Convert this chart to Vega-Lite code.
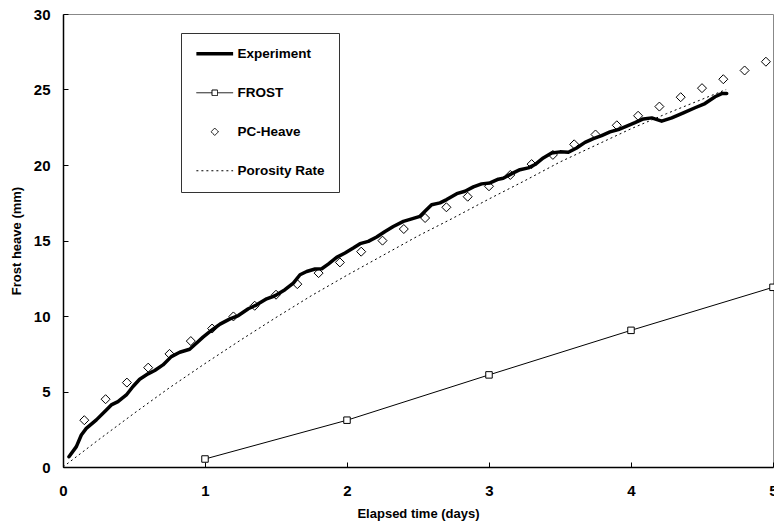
{
  "$schema": "https://vega.github.io/schema/vega-lite/v6.json",
  "width": 710,
  "height": 453,
  "autosize": {"type": "none"},
  "padding": {"left": 63, "top": 14, "right": 1, "bottom": 60},
  "background": "white",
  "config": {
    "view": {"stroke": "#888888", "strokeWidth": 1},
    "font": "Liberation Sans",
    "axis": {
      "domainColor": "black",
      "domainWidth": 1.5,
      "tickColor": "black",
      "tickWidth": 1,
      "tickSize": -5,
      "grid": false,
      "labelFlush": false,
      "labelFont": "Liberation Sans",
      "labelFontWeight": "bold",
      "labelFontSize": 15,
      "labelColor": "black",
      "titleFont": "Liberation Sans",
      "titleFontWeight": "bold",
      "titleFontSize": 13,
      "titleColor": "black"
    },
    "legend": {
      "labelFont": "Liberation Sans",
      "labelFontWeight": "bold",
      "labelFontSize": 13.5,
      "labelColor": "black"
    }
  },
  "datasets": {
    "exp": [
      {"s":"Experiment","t":0.042,"h":0.68},{"s":"Experiment","t":0.094,"h":1.35},{"s":"Experiment","t":0.129,"h":2.12},{"s":"Experiment","t":0.164,"h":2.56},{"s":"Experiment","t":0.235,"h":3.12},{"s":"Experiment","t":0.305,"h":3.78},{"s":"Experiment","t":0.34,"h":4.11},{"s":"Experiment","t":0.387,"h":4.33},{"s":"Experiment","t":0.446,"h":4.77},{"s":"Experiment","t":0.493,"h":5.33},{"s":"Experiment","t":0.54,"h":5.81},{"s":"Experiment","t":0.599,"h":6.17},{"s":"Experiment","t":0.646,"h":6.39},{"s":"Experiment","t":0.704,"h":6.76},{"s":"Experiment","t":0.763,"h":7.31},{"s":"Experiment","t":0.822,"h":7.6},{"s":"Experiment","t":0.892,"h":7.8},{"s":"Experiment","t":0.939,"h":8.2},{"s":"Experiment","t":0.986,"h":8.6},{"s":"Experiment","t":1.045,"h":9.04},{"s":"Experiment","t":1.106,"h":9.46},{"s":"Experiment","t":1.176,"h":9.81},{"s":"Experiment","t":1.235,"h":10.03},{"s":"Experiment","t":1.305,"h":10.48},{"s":"Experiment","t":1.364,"h":10.74},{"s":"Experiment","t":1.434,"h":11.14},{"s":"Experiment","t":1.493,"h":11.34},{"s":"Experiment","t":1.563,"h":11.74},{"s":"Experiment","t":1.622,"h":12.18},{"s":"Experiment","t":1.669,"h":12.73},{"s":"Experiment","t":1.716,"h":12.95},{"s":"Experiment","t":1.775,"h":13.11},{"s":"Experiment","t":1.822,"h":13.13},{"s":"Experiment","t":1.868,"h":13.44},{"s":"Experiment","t":1.927,"h":13.88},{"s":"Experiment","t":1.986,"h":14.17},{"s":"Experiment","t":2.044,"h":14.5},{"s":"Experiment","t":2.092,"h":14.79},{"s":"Experiment","t":2.15,"h":14.94},{"s":"Experiment","t":2.209,"h":15.23},{"s":"Experiment","t":2.268,"h":15.6},{"s":"Experiment","t":2.326,"h":15.93},{"s":"Experiment","t":2.397,"h":16.27},{"s":"Experiment","t":2.456,"h":16.43},{"s":"Experiment","t":2.514,"h":16.6},{"s":"Experiment","t":2.549,"h":16.93},{"s":"Experiment","t":2.596,"h":17.37},{"s":"Experiment","t":2.655,"h":17.49},{"s":"Experiment","t":2.702,"h":17.71},{"s":"Experiment","t":2.773,"h":18.1},{"s":"Experiment","t":2.831,"h":18.26},{"s":"Experiment","t":2.89,"h":18.55},{"s":"Experiment","t":2.948,"h":18.75},{"s":"Experiment","t":3.007,"h":18.81},{"s":"Experiment","t":3.066,"h":19.06},{"s":"Experiment","t":3.1,"h":19.12},{"s":"Experiment","t":3.16,"h":19.43},{"s":"Experiment","t":3.218,"h":19.69},{"s":"Experiment","t":3.277,"h":19.81},{"s":"Experiment","t":3.324,"h":20.03},{"s":"Experiment","t":3.382,"h":20.47},{"s":"Experiment","t":3.441,"h":20.8},{"s":"Experiment","t":3.5,"h":20.87},{"s":"Experiment","t":3.559,"h":20.84},{"s":"Experiment","t":3.617,"h":21.13},{"s":"Experiment","t":3.676,"h":21.5},{"s":"Experiment","t":3.735,"h":21.75},{"s":"Experiment","t":3.793,"h":21.95},{"s":"Experiment","t":3.852,"h":22.19},{"s":"Experiment","t":3.911,"h":22.35},{"s":"Experiment","t":3.97,"h":22.57},{"s":"Experiment","t":4.028,"h":22.8},{"s":"Experiment","t":4.087,"h":23.05},{"s":"Experiment","t":4.146,"h":23.12},{"s":"Experiment","t":4.216,"h":22.9},{"s":"Experiment","t":4.287,"h":23.12},{"s":"Experiment","t":4.369,"h":23.45},{"s":"Experiment","t":4.451,"h":23.79},{"s":"Experiment","t":4.521,"h":24.07},{"s":"Experiment","t":4.592,"h":24.52},{"s":"Experiment","t":4.639,"h":24.73},{"s":"Experiment","t":4.674,"h":24.73}
    ],
    "frost": [
      {"s":"FROST","t":1,"h":0.53},{"s":"FROST","t":2,"h":3.1},{"s":"FROST","t":3,"h":6.1},{"s":"FROST","t":4,"h":9.05},{"s":"FROST","t":5,"h":11.9}
    ],
    "pc": [
      {"s":"PC-Heave","t":0.15,"h":3.1},{"s":"PC-Heave","t":0.3,"h":4.49},{"s":"PC-Heave","t":0.45,"h":5.59},{"s":"PC-Heave","t":0.6,"h":6.58},{"s":"PC-Heave","t":0.75,"h":7.49},{"s":"PC-Heave","t":0.9,"h":8.34},{"s":"PC-Heave","t":1.05,"h":9.17},{"s":"PC-Heave","t":1.2,"h":9.97},{"s":"PC-Heave","t":1.35,"h":10.68},{"s":"PC-Heave","t":1.5,"h":11.41},{"s":"PC-Heave","t":1.65,"h":12.11},{"s":"PC-Heave","t":1.8,"h":12.84},{"s":"PC-Heave","t":1.95,"h":13.55},{"s":"PC-Heave","t":2.1,"h":14.26},{"s":"PC-Heave","t":2.25,"h":14.99},{"s":"PC-Heave","t":2.4,"h":15.76},{"s":"PC-Heave","t":2.55,"h":16.49},{"s":"PC-Heave","t":2.7,"h":17.2},{"s":"PC-Heave","t":2.85,"h":17.9},{"s":"PC-Heave","t":3.0,"h":18.59},{"s":"PC-Heave","t":3.15,"h":19.34},{"s":"PC-Heave","t":3.3,"h":20.06},{"s":"PC-Heave","t":3.45,"h":20.67},{"s":"PC-Heave","t":3.6,"h":21.37},{"s":"PC-Heave","t":3.75,"h":22.02},{"s":"PC-Heave","t":3.9,"h":22.63},{"s":"PC-Heave","t":4.05,"h":23.26},{"s":"PC-Heave","t":4.2,"h":23.87},{"s":"PC-Heave","t":4.35,"h":24.49},{"s":"PC-Heave","t":4.5,"h":25.09},{"s":"PC-Heave","t":4.65,"h":25.68},{"s":"PC-Heave","t":4.8,"h":26.26},{"s":"PC-Heave","t":4.95,"h":26.84}
    ],
    "por": [
      {"s":"Porosity Rate","t":0,"h":0},{"s":"Porosity Rate","t":0.25,"h":1.8},{"s":"Porosity Rate","t":0.5,"h":3.55},{"s":"Porosity Rate","t":0.75,"h":5.25},{"s":"Porosity Rate","t":1.0,"h":6.85},{"s":"Porosity Rate","t":1.25,"h":8.4},{"s":"Porosity Rate","t":1.5,"h":9.9},{"s":"Porosity Rate","t":1.75,"h":11.35},{"s":"Porosity Rate","t":2.0,"h":12.7},{"s":"Porosity Rate","t":2.25,"h":14.0},{"s":"Porosity Rate","t":2.5,"h":15.3},{"s":"Porosity Rate","t":2.75,"h":16.5},{"s":"Porosity Rate","t":3.0,"h":17.75},{"s":"Porosity Rate","t":3.25,"h":18.95},{"s":"Porosity Rate","t":3.5,"h":20.2},{"s":"Porosity Rate","t":3.75,"h":21.3},{"s":"Porosity Rate","t":4.0,"h":22.4},{"s":"Porosity Rate","t":4.25,"h":23.4},{"s":"Porosity Rate","t":4.5,"h":24.35},{"s":"Porosity Rate","t":4.67,"h":25.0}
    ]
  },
  "encoding": {
    "x": {
      "field": "t", "type": "quantitative",
      "scale": {"domain": [0, 5], "nice": false, "zero": false},
      "axis": {"title": "Elapsed time (days)", "values": [0,1,2,3,4,5], "labelPadding": 21, "titlePadding": 9}
    },
    "y": {
      "field": "h", "type": "quantitative",
      "scale": {"domain": [0, 30], "nice": false},
      "axis": {"title": "Frost heave (mm)", "values": [0,5,10,15,20,25,30], "labelPadding": 18, "titlePadding": 10}
    },
    "color": {
      "field": "s", "type": "nominal",
      "scale": {"domain": ["Experiment", "FROST", "PC-Heave", "Porosity Rate"], "range": ["black", "black", "black", "black"]},
      "legend": {
        "title": null,
        "orient": "none",
        "legendX": 118,
        "legendY": 19,
        "direction": "vertical",
        "strokeColor": "#333333",
        "fillColor": "white",
        "padding": 14,
        "symbolSize": 100,
        "symbolOffset": 13,
        "labelOffset": 16,
        "rowPadding": 24,
        "encode": {
          "symbols": {
            "update": {
              "shape": {"signal": "datum.value === 'FROST' ? 'M-1,0H-0.15M0.15,0H1M-0.15,-0.15H0.15V0.15H-0.15Z' : datum.value === 'PC-Heave' ? 'M0,-0.2L0.2,0L0,0.2L-0.2,0Z' : 'M-1,0H1'"},
              "size": {"value": 1350},
              "strokeWidth": {"signal": "datum.value === 'Experiment' ? 3.5 : 1"},
              "strokeDash": {"signal": "datum.value === 'Porosity Rate' ? [2,3] : [1,0]"},
              "fill": {"value": "white"},
              "stroke": {"value": "black"},
              "opacity": {"value": 1}
            }
          }
        }
      }
    }
  },
  "layer": [
    {
      "data": {"name": "por"},
      "mark": {"type": "line", "strokeWidth": 1, "strokeDash": [2, 3]}
    },
    {
      "data": {"name": "frost"},
      "mark": {"type": "line", "strokeWidth": 1}
    },
    {
      "data": {"name": "frost"},
      "mark": {"type": "point", "shape": "square", "size": 42, "filled": false, "fill": "white", "strokeWidth": 1, "opacity": 1}
    },
    {
      "data": {"name": "pc"},
      "mark": {"type": "point", "shape": "diamond", "size": 81, "filled": false, "fill": "white", "strokeWidth": 1, "opacity": 1}
    },
    {
      "data": {"name": "exp"},
      "mark": {"type": "line", "strokeWidth": 3.5, "strokeJoin": "round", "strokeCap": "round"}
    }
  ]
}
